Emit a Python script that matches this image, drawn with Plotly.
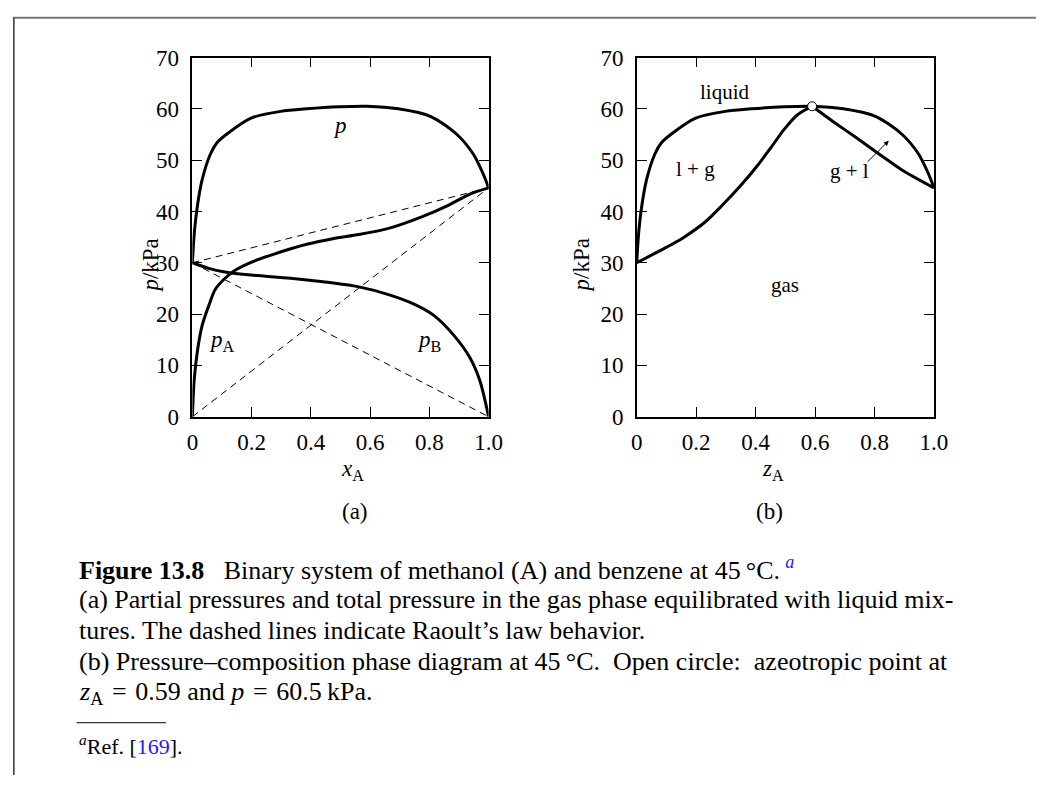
import plotly.graph_objects as go

# ---------------- data ----------------
# (a) total pressure p (also bubble / liquid curve in (b))
x_tot = [0, 0.006, 0.017, 0.033, 0.061, 0.083, 0.121, 0.198, 0.298, 0.386, 0.496, 0.59, 0.695, 0.805, 0.893, 0.948, 0.981, 1.0]
p_tot = [30, 35.5, 41.1, 46.2, 51.2, 53.4, 55.3, 58.2, 59.5, 60.0, 60.4, 60.5, 60.0, 58.5, 55.0, 51.2, 47.4, 44.6]

# (a) partial pressure of A
x_pA = [0, 0.006, 0.017, 0.033, 0.055, 0.077, 0.105, 0.143, 0.198, 0.276, 0.386, 0.474, 0.562, 0.662, 0.772, 0.86, 0.937, 1.0]
p_A = [0, 7.1, 12.8, 17.8, 21.6, 24.8, 26.7, 28.5, 30.1, 31.7, 33.6, 34.7, 35.5, 36.7, 38.9, 41.1, 43.4, 44.6]

# (a) partial pressure of B
x_pB = [0, 0.055, 0.11, 0.198, 0.331, 0.441, 0.562, 0.662, 0.75, 0.816, 0.882, 0.937, 0.97, 1.0]
p_B = [30, 28.9, 28.2, 27.6, 27.0, 26.3, 25.3, 23.8, 21.9, 19.7, 15.9, 11.5, 7.1, 0]

# (a) Raoult's law lines (end points)
raoult_x = [0, 1]
raoult_pA = [0, 44.6]
raoult_pB = [30, 0]
raoult_p = [30, 44.6]

# (b) dew (gas) curve, left and right branches
z_dew_l = [0, 0.099, 0.154, 0.231, 0.286, 0.352, 0.407, 0.452, 0.496, 0.54, 0.573, 0.59]
p_dew_l = [30, 33.0, 34.8, 38.0, 41.1, 45.2, 49.0, 52.5, 56.0, 58.8, 60.0, 60.5]
z_dew_r = [0.59, 0.661, 0.738, 0.815, 0.892, 1.0]
p_dew_r = [60.5, 57.5, 54.4, 51.2, 48.1, 44.6]

# azeotrope
z_az = [0.59]
p_az = [60.5]

x_ticks = [0, 0.2, 0.4, 0.6, 0.8, 1.0]
x_ticktext = ["0", "0.2", "0.4", "0.6", "0.8", "1.0"]
y_ticks = [0, 10, 20, 30, 40, 50, 60, 70]

FONT = "Liberation Serif"
W, H = 1050, 788


def px(x):
    return x / W


def py(y):
    return 1 - y / H


fig = go.Figure()

thick = dict(color="black", width=3)
dash = dict(color="black", width=1, dash="7px,5px")

# (a)
for yy in (raoult_pA, raoult_pB, raoult_p):
    fig.add_trace(go.Scatter(x=raoult_x, y=yy, mode="lines", line=dash,
                             xaxis="x", yaxis="y", cliponaxis=False, showlegend=False))
fig.add_trace(go.Scatter(x=x_tot, y=p_tot, mode="lines", line=dict(thick, shape="spline", smoothing=0.8),
                         xaxis="x", yaxis="y", cliponaxis=False, showlegend=False))
fig.add_trace(go.Scatter(x=x_pA, y=p_A, mode="lines", line=dict(thick, shape="spline", smoothing=0.8),
                         xaxis="x", yaxis="y", cliponaxis=False, showlegend=False))
fig.add_trace(go.Scatter(x=x_pB, y=p_B, mode="lines", line=dict(thick, shape="spline", smoothing=0.8),
                         xaxis="x", yaxis="y", cliponaxis=False, showlegend=False))

# (b)
fig.add_trace(go.Scatter(x=x_tot, y=p_tot, mode="lines", line=dict(thick, shape="spline", smoothing=0.8),
                         xaxis="x2", yaxis="y2", cliponaxis=False, showlegend=False))
fig.add_trace(go.Scatter(x=z_dew_l, y=p_dew_l, mode="lines", line=dict(thick, shape="spline", smoothing=0.8),
                         xaxis="x2", yaxis="y2", cliponaxis=False, showlegend=False))
fig.add_trace(go.Scatter(x=z_dew_r, y=p_dew_r, mode="lines", line=dict(thick, shape="spline", smoothing=0.6),
                         xaxis="x2", yaxis="y2", cliponaxis=False, showlegend=False))
fig.add_trace(go.Scatter(x=z_az, y=p_az, mode="markers",
                         marker=dict(size=9, color="white", line=dict(color="black", width=1)),
                         xaxis="x2", yaxis="y2", cliponaxis=False, showlegend=False))

axis_common = dict(showgrid=False, zeroline=False, showline=True, linecolor="black", linewidth=1.5,
                   ticks="inside", ticklen=10, tickwidth=1, tickcolor="black", mirror="ticks",
                   tickfont=dict(family=FONT, size=23, color="black"))

ydom = [py(418), py(47)]
fig.update_layout(
    width=W, height=H, margin=dict(l=0, r=0, t=0, b=0),
    paper_bgcolor="white", plot_bgcolor="white",
    font=dict(family=FONT, color="black"),
    xaxis=dict(axis_common, domain=[px(190), px(492)], range=[0, 1], tickvals=x_ticks, ticktext=x_ticktext,
               anchor="y", ticklabelstandoff=4),
    yaxis=dict(axis_common, domain=ydom, range=[0, 70], tickvals=y_ticks, anchor="x", ticklabelstandoff=7),
    xaxis2=dict(axis_common, domain=[px(643), px(946)], range=[0, 1], tickvals=x_ticks, ticktext=x_ticktext,
                anchor="y2", ticklabelstandoff=4),
    yaxis2=dict(axis_common, domain=ydom, range=[0, 70], tickvals=y_ticks, anchor="x2", ticklabelstandoff=7),
)

ann = []
lab = dict(font=dict(family=FONT, size=23, color="black"), showarrow=False)
# in-plot labels (a)
ann.append(dict(lab, x=0.497, y=56.8, xref="x", yref="y", text="<i>p</i>"))
ann.append(dict(lab, x=0.10, y=14.8, xref="x", yref="y", text="<i>p</i><sub>A</sub>"))
ann.append(dict(lab, x=0.80, y=14.8, xref="x", yref="y", text="<i>p</i><sub>B</sub>"))
# in-plot labels (b)
lab2 = dict(font=dict(family=FONT, size=21, color="black"), showarrow=False)
ann.append(dict(lab2, x=0.297, y=63.3, xref="x2", yref="y2", text="liquid"))
ann.append(dict(lab2, x=0.198, y=48.2, xref="x2", yref="y2", text="l + g"))
ann.append(dict(lab2, x=0.716, y=47.9, xref="x2", yref="y2", text="g + l"))
ann.append(dict(lab2, x=0.498, y=25.6, xref="x2", yref="y2", text="gas"))
ann.append(dict(x=0.848, y=53.8, ax=0.772, ay=49.4, xref="x2", yref="y2", axref="x2", ayref="y2",
                text="", showarrow=True, arrowhead=2, arrowsize=1, arrowwidth=1, arrowcolor="black"))
# axis titles
ann.append(dict(lab, x=px(340), y=py(473), xref="paper", yref="paper", text="<i>x</i><sub>A</sub>", borderpad=0))
ann.append(dict(lab, x=px(794), y=py(473), xref="paper", yref="paper", text="<i>z</i><sub>A</sub>", borderpad=0))
ann.append(dict(lab, x=px(133), y=py(232), xref="paper", yref="paper", text="<i>p</i>/kPa", textangle=-90))
ann.append(dict(lab, x=px(587), y=py(232), xref="paper", yref="paper", text="<i>p</i>/kPa", textangle=-90))
ann.append(dict(lab, x=px(340), y=py(516), xref="paper", yref="paper", text="(a)"))
ann.append(dict(lab, x=px(794), y=py(516), xref="paper", yref="paper", text="(b)"))

# caption
cap = dict(font=dict(family=FONT, size=26, color="black"), showarrow=False, xref="paper", yref="paper",
           xanchor="left", yanchor="middle", x=px(72))
caption_lines = [
    (575, "<b>Figure 13.8</b>\u2002 Binary system of methanol (A) and benzene at 45\u2009\u00b0C.\u2009<sup><i><span style='color:#1a1aff'>a</span></i></sup>"),
    (607, "(a) Partial pressures and total pressure in the gas phase equilibrated with liquid mix-"),
    (639, "tures. The dashed lines indicate Raoult\u2019s law behavior."),
    (671, "(b) Pressure\u2013composition phase diagram at 45\u2009\u00b0C.\u2002Open circle:\u2002azeotropic point at"),
    (703, "<i>z</i><sub>A</sub>\u2004=\u20040.59 and <i>p</i>\u2004=\u200460.5\u2009kPa."),
]
for yy, t in caption_lines:
    ann.append(dict(cap, y=py(yy), text=t))
ann.append(dict(cap, y=py(757), font=dict(family=FONT, size=22, color="black"),
                text="<sup><i>a</i></sup>Ref. [<span style='color:#1a1aff'>169</span>]."))

fig.update_layout(annotations=ann)

fig.update_layout(shapes=[
    dict(type="line", xref="paper", yref="paper", x0=px(72), x1=px(163), y0=py(734), y1=py(734),
         line=dict(color="black", width=1)),
    dict(type="line", xref="paper", yref="paper", x0=px(7), x1=1, y0=py(6), y1=py(6),
         line=dict(color="#777777", width=2)),
    dict(type="line", xref="paper", yref="paper", x0=px(8), x1=px(8), y0=py(6), y1=0,
         line=dict(color="#333333", width=1.5)),
])

fig.write_html("out.html", config={"displayModeBar": False},
               post_script="document.body.style.margin='0';document.body.style.padding='0';")
